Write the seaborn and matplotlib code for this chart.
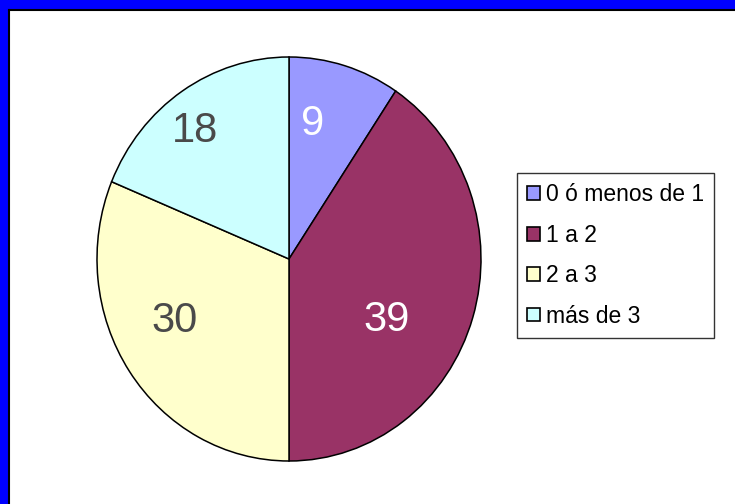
import matplotlib
matplotlib.use('Agg')
from matplotlib import pyplot as plt
import seaborn as sns
import numpy as np

categories = ['0 ó menos de 1', '1 a 2', '2 a 3', 'más de 3']
values     = [9, 39, 30, 18]
colors     = ['#9999FF', '#993366', '#FFFFCC', '#CCFFFF']
text_cols  = ['white', 'white', '#4a4a4a', '#4a4a4a']

# Excel puts the numbers a bit off the bisector; radius / angle shift per slice
label_r     = [0.68, 0.59, 0.67, 0.80]
label_shift = [6.5, -14.0, -6.5, 4.0]

sns.set_theme(style='white')
plt.rcParams['font.family'] = ['Liberation Sans', 'DejaVu Sans']

W, H = 735, 504
fig = plt.figure(figsize=(W / 100, H / 100), dpi=100, facecolor='#0000FF')

# white plot area with black edge on top / left
bg = fig.add_axes([9 / W, 0, 1, (H - 10) / H])
bg.set_facecolor('white')
bg.set_xticks([])
bg.set_yticks([])
for side in ['right', 'bottom']:
    bg.spines[side].set_visible(False)
for side in ['left', 'top']:
    bg.spines[side].set_color('black')
    bg.spines[side].set_linewidth(1.5)

# pie: centre (289, 259), radius ~192 x 202 px
cx, cy, rx, ry = 289, 259, 192, 202
ax = fig.add_axes([(cx - rx) / W, (H - cy - ry) / H, 2 * rx / W, 2 * ry / H])
ax.patch.set_alpha(0)
wedges, _ = ax.pie(values, colors=colors, startangle=90, counterclock=False,
                   wedgeprops=dict(edgecolor='black', linewidth=1.1))
ax.set_aspect('auto')
ax.set_xlim(-1, 1)
ax.set_ylim(-1, 1)

for w, v, c, r, s in zip(wedges, values, text_cols, label_r, label_shift):
    ang = np.deg2rad((w.theta1 + w.theta2) / 2 + s)
    ax.text(r * np.cos(ang), r * np.sin(ang), str(v), color=c, fontsize=30,
            ha='center', va='center')

leg = fig.legend(wedges, categories, loc='upper left',
                 bbox_to_anchor=(517 / W, 1 - 173 / H), frameon=True,
                 fontsize=16.5, handlelength=0.55, handleheight=0.55,
                 handletextpad=0.25, labelspacing=0.76, borderpad=0.45,
                 borderaxespad=0, fancybox=False, labelcolor='black')
leg.get_frame().set_edgecolor('black')
leg.get_frame().set_linewidth(1.0)
for h in leg.legend_handles:
    h.set_edgecolor('black')
    h.set_linewidth(1.2)

fig.savefig('out.png', dpi=100, facecolor=fig.get_facecolor())
